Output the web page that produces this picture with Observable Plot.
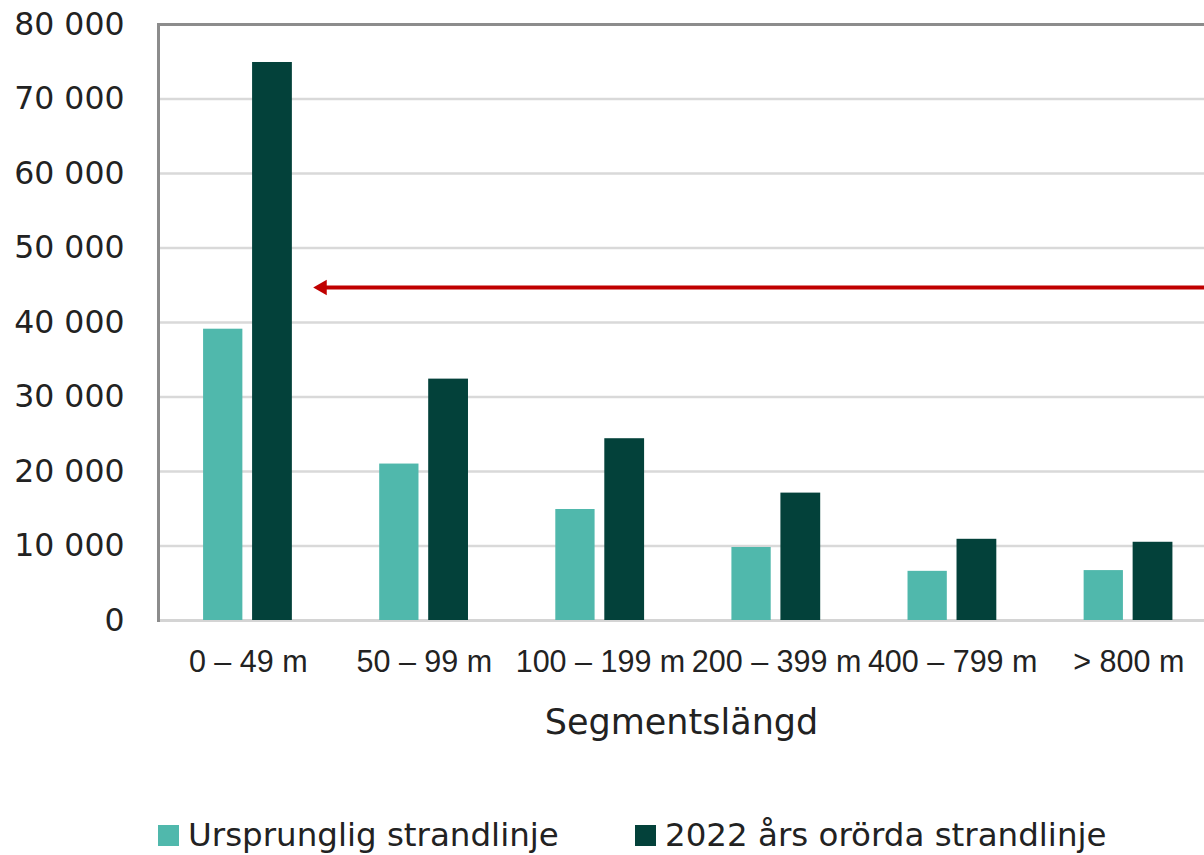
<!DOCTYPE html>
<html>
<head>
<meta charset="utf-8">
<script src="https://cdn.jsdelivr.net/npm/d3@7"></script>
<script src="https://cdn.jsdelivr.net/npm/@observablehq/plot@0.6"></script>
<style>
  html, body { margin: 0; padding: 0; background: #fff; }
  body { width: 1204px; height: 855px; overflow: hidden; font-family: "DejaVu Sans", sans-serif; color: #222; }
  #chart svg { display: block; }
  .legend { position: absolute; top: 815px; left: 0; width: 1204px; height: 40px; font-size: 32.5px; color: #222; font-family: "DejaVu Sans", sans-serif; }
  .legend .item { position: absolute; display: flex; align-items: center; height: 40px; }
  .legend .sw { width: 21px; height: 21px; margin-right: 9px; }
</style>
</head>
<body>
<div id="chart"></div>
<div class="legend" id="legend"></div>
<script>
const categories = ["0 – 49 m", "50 – 99 m", "100 – 199 m", "200 – 399 m", "400 – 799 m", "> 800 m"];
const ursprunglig = [39100, 21000, 14900, 9800, 6600, 6700];
const ororda2022 = [74900, 32400, 24400, 17100, 10900, 10500];
const seriesNames = ["Ursprunglig strandlinje", "2022 års orörda strandlinje"];
const seriesColors = ["#50B8AC", "#03413A"];
const yTicks = [0, 10000, 20000, 30000, 40000, 50000, 60000, 70000, 80000];
const arrowLevel = [44700];
const xTitle = "Segmentslängd";

const rowsA = categories.map((c, i) => ({category: c, value: ursprunglig[i]}));
const rowsB = categories.map((c, i) => ({category: c, value: ororda2022[i]}));
const arrowTip = [{category: categories[0], value: arrowLevel[0]}];

const fmt = d3.formatLocale({decimal: ",", thousands: "\u00a0", grouping: [3]}).format(",d");

const chart = Plot.plot({
  width: 1204,
  height: 770,
  marginLeft: 158,
  marginRight: 0,
  marginTop: 24,
  marginBottom: 150,
  style: {fontFamily: "Liberation Sans, Arial, sans-serif", color: "#222", background: "#fff"},
  x: {
    domain: categories,
    range: [158, 1218],
    paddingInner: 0.493,
    paddingOuter: 0.256,
    round: false,
    label: null
  },
  y: {domain: [0, 80000], label: null},
  marks: [
    Plot.ruleY(yTicks.filter(t => t > 0 && t < 80000), {stroke: "#d9d9d9", strokeWidth: 2.5}),
    Plot.ruleY([yTicks[yTicks.length - 1]], {stroke: "#8c8c8c", strokeWidth: 3}),
    Plot.ruleY([0], {stroke: "#d4d4d4", strokeWidth: 3}),
    Plot.frame({anchor: "left", stroke: "#8c8c8c", strokeWidth: 3}),
    Plot.barY(rowsA, {x: "category", y: "value", fill: seriesColors[0], insetRight: 50}),
    Plot.barY(rowsB, {x: "category", y: "value", fill: seriesColors[1], insetLeft: 49, insetRight: 0.5}),
    Plot.ruleY(arrowLevel, {stroke: "#C00000", strokeWidth: 4, insetLeft: 165}),
    Plot.dot(arrowTip, {x: "category", y: "value", symbol: "triangle", r: 5.8, fill: "#C00000", stroke: "none", rotate: -90, dx: 74}),
    Plot.axisY(yTicks, {tickSize: 0, tickPadding: 34, fontSize: 31.5, fontFamily: "DejaVu Sans", tickFormat: fmt, label: null}),
    Plot.axisX({tickSize: 0, tickPadding: 30, fontSize: 30.5, label: xTitle, labelAnchor: "center", labelArrow: "none", labelOffset: 113})
  ]
});
document.getElementById("chart").appendChild(chart);

// x axis title styling
chart.querySelectorAll("[aria-label='x-axis label'] text").forEach(t => {
  t.setAttribute("font-size", 35);
  t.setAttribute("font-family", "DejaVu Sans");
});

const legend = document.getElementById("legend");
const lefts = [158, 635];
seriesNames.forEach((name, i) => {
  const item = document.createElement("div");
  item.className = "item";
  item.style.left = lefts[i] + "px";
  const sw = document.createElement("div");
  sw.className = "sw";
  sw.style.background = seriesColors[i];
  const tx = document.createElement("span");
  tx.textContent = name;
  item.appendChild(sw);
  item.appendChild(tx);
  legend.appendChild(item);
});
</script>
</body>
</html>
